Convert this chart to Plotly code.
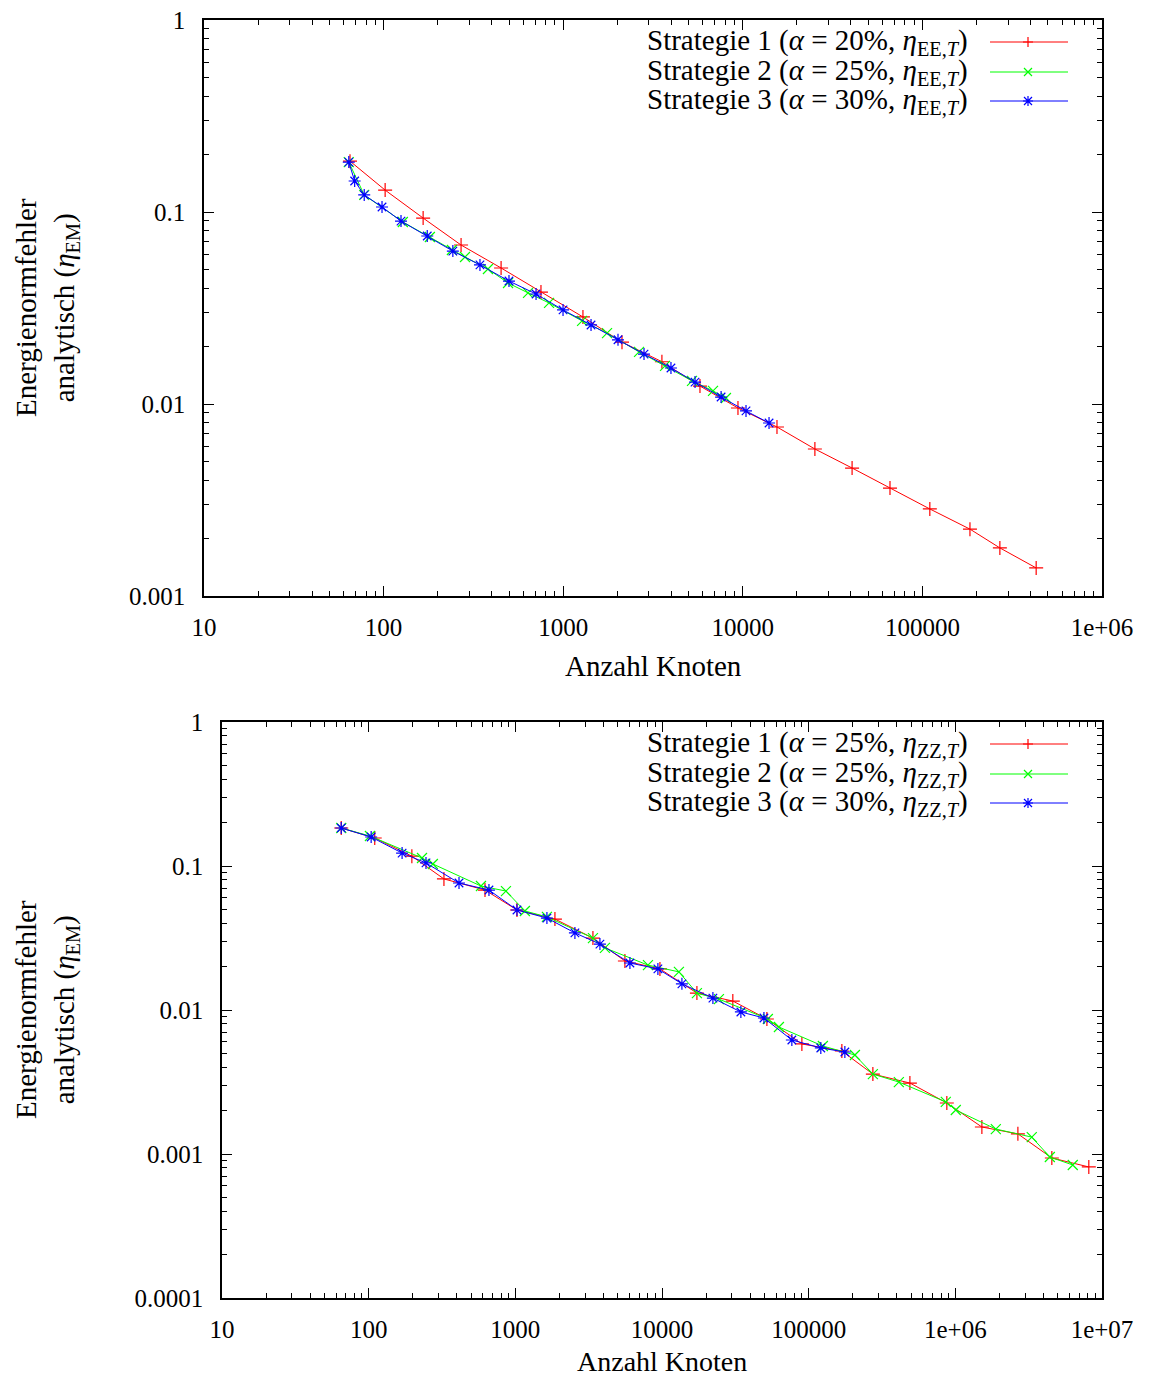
import plotly.graph_objects as go

# page body has an 8px margin: size the figure so it fits the 1153x1385 window
OFF = 8
W, H = 1153 - 2 * OFF, 1385 - 2 * OFF

# ---------------- data: top chart (eta_EE,T) ----------------
top_s1_n = [65, 102, 166, 270, 451, 752, 1288, 2125, 3545, 5775, 9400, 15500,
            25200, 40600, 66000, 110000, 184000, 270000, 430000]
top_s1_e = [0.184, 0.130, 0.093, 0.0673, 0.0511, 0.0383, 0.0284, 0.0210, 0.0166,
            0.0124, 0.00953, 0.00759, 0.00583, 0.00464, 0.00365, 0.00284,
            0.00223, 0.00178, 0.00140]

top_s2_n = [64, 78, 128, 181, 240, 284, 381, 493, 637, 834, 1274, 1754, 2644,
            3690, 5215, 6825, 8055]
top_s2_e = [0.182, 0.1227, 0.0887, 0.0741, 0.0634, 0.0583, 0.0505, 0.0427,
            0.0379, 0.0336, 0.0271, 0.0234, 0.0187, 0.0158, 0.0132, 0.0117,
            0.01075]

top_s3_n = [64, 69, 78, 98, 125, 175, 243, 344, 499, 706, 998, 1429, 2019, 2818,
            3981, 5420, 7570, 10420, 14000]
top_s3_e = [0.182, 0.145, 0.1227, 0.1062, 0.0897, 0.0750, 0.0626, 0.0530,
            0.0437, 0.0374, 0.0309, 0.0258, 0.0216, 0.0182, 0.0154, 0.0130,
            0.01087, 0.0092, 0.00796]

# ---------------- data: bottom chart (eta_ZZ,T) ----------------
bot_s1_n = [65, 110, 197, 326, 621, 1026, 1862, 3381, 5585, 9680, 17300, 30400,
            51900, 89900, 168400, 274000, 490000, 875000, 1517000, 2670000,
            4550000, 8130000]
bot_s1_e = [0.1836, 0.1565, 0.117, 0.0813, 0.0681, 0.0495, 0.0428, 0.0316,
            0.0219, 0.0193, 0.0131, 0.01154, 0.00866, 0.00581, 0.00519, 0.00359,
            0.00311, 0.00226, 0.00154, 0.00138, 0.000938, 0.000813]

bot_s2_n = [65, 102, 231, 274, 583, 863, 1162, 1642, 3381, 4083, 8020, 13040,
            17300, 24440, 52700, 62700, 125000, 206700, 274000, 412000, 861000,
            1007000, 1888000, 3320000, 4410000, 6320000]
bot_s2_e = [0.1836, 0.1615, 0.1137, 0.1033, 0.0726, 0.0670, 0.0487, 0.0443,
            0.0316, 0.0270, 0.0205, 0.0184, 0.0131, 0.0119, 0.00866, 0.00762,
            0.00562, 0.00487, 0.00359, 0.00316, 0.00230, 0.00202, 0.00149,
            0.00131, 0.000953, 0.000839]

bot_s3_n = [65, 104, 169, 246, 413, 661, 1026, 1642, 2548, 3774, 6043, 9377,
            13670, 22240, 34500, 49550, 76800, 121000, 176500]
bot_s3_e = [0.1836, 0.159, 0.123, 0.105, 0.0762, 0.0681, 0.0495, 0.0435, 0.0343,
            0.0287, 0.0212, 0.0193, 0.0152, 0.0121, 0.00969, 0.00880, 0.00619,
            0.00545, 0.00511]

top_names = ["Strategie 1 (<i>α</i> = 20%, <i>η</i><sub>EE,<i>T</i></sub>)",
             "Strategie 2 (<i>α</i> = 25%, <i>η</i><sub>EE,<i>T</i></sub>)",
             "Strategie 3 (<i>α</i> = 30%, <i>η</i><sub>EE,<i>T</i></sub>)"]
bot_names = ["Strategie 1 (<i>α</i> = 25%, <i>η</i><sub>ZZ,<i>T</i></sub>)",
             "Strategie 2 (<i>α</i> = 25%, <i>η</i><sub>ZZ,<i>T</i></sub>)",
             "Strategie 3 (<i>α</i> = 30%, <i>η</i><sub>ZZ,<i>T</i></sub>)"]

x_top_ticks = [10, 100, 1000, 10000, 100000, 1000000]
x_top_text = ["10", "100", "1000", "10000", "100000", "1e+06"]
x_bot_ticks = [10, 100, 1000, 10000, 100000, 1000000, 10000000]
x_bot_text = ["10", "100", "1000", "10000", "100000", "1e+06", "1e+07"]
y_top_ticks = [0.001, 0.01, 0.1, 1]
y_top_text = ["0.001", "0.01", "0.1", "1"]
y_bot_ticks = [0.0001, 0.001, 0.01, 0.1, 1]
y_bot_text = ["0.0001", "0.001", "0.01", "0.1", "1"]

colors = ["#ff0000", "#00ff00", "#0000ff"]
symbols = ["cross-thin", "x-thin", "asterisk"]
FONT = "Liberation Serif"

fig = go.Figure()

top_series = [(top_s1_n, top_s1_e), (top_s2_n, top_s2_e), (top_s3_n, top_s3_e)]
bot_series = [(bot_s1_n, bot_s1_e), (bot_s2_n, bot_s2_e), (bot_s3_n, bot_s3_e)]

for i, (xs, ys) in enumerate(top_series):
    fig.add_trace(go.Scatter(x=xs, y=ys, mode="lines+markers", name=top_names[i],
                             xaxis="x", yaxis="y", showlegend=False,
                             line=dict(color=colors[i], width=1),
                             marker=dict(symbol=symbols[i], size=10,
                                         line=dict(color=colors[i], width=1.2))))
for i, (xs, ys) in enumerate(bot_series):
    fig.add_trace(go.Scatter(x=xs, y=ys, mode="lines+markers", name=bot_names[i],
                             xaxis="x2", yaxis="y2", showlegend=False,
                             line=dict(color=colors[i], width=1),
                             marker=dict(symbol=symbols[i], size=10,
                                         line=dict(color=colors[i], width=1.2))))


def minors(lo, hi):
    out = []
    for e in range(lo, hi):
        for d in range(2, 10):
            out.append(d * 10 ** e)
    return out


def fx(p):
    return (p - OFF) / W


def fy(p):
    return 1 - (p - OFF) / H


def axis(domain, rng, tv, tt, anchor, minor_vals, standoff):
    return dict(type="log", domain=domain, range=rng, anchor=anchor,
                automargin=False, ticklabeloverflow="allow",
                tickmode="array", tickvals=tv, ticktext=tt,
                ticks="inside", ticklen=10, tickwidth=1.2, tickcolor="black",
                showline=True, linecolor="black", linewidth=1.5,
                mirror="allticks", showgrid=False, zeroline=False,
                ticklabelstandoff=standoff,
                tickfont=dict(family=FONT, size=25, color="black"),
                minor=dict(tickvals=minor_vals, ticks="inside", ticklen=5,
                           tickwidth=1, tickcolor="black", showgrid=False))


fig.update_layout(
    width=W, height=H, margin=dict(l=0, r=0, t=0, b=0, pad=0, autoexpand=False),
    paper_bgcolor="white", plot_bgcolor="white", showlegend=False,
    xaxis=axis([fx(204), fx(1102)], [1, 6], x_top_ticks, x_top_text, "y",
               minors(1, 6), 8),
    yaxis=axis([fy(596), fy(20)], [-3, 0], y_top_ticks, y_top_text, "x",
               minors(-3, 0), 12),
    xaxis2=axis([fx(222), fx(1102)], [1, 7], x_bot_ticks, x_bot_text, "y2",
                minors(1, 7), 8),
    yaxis2=axis([fy(1298), fy(722)], [-4, 0], y_bot_ticks, y_bot_text, "x2",
                minors(-4, 0), 12),
)

annotations = []
shapes = []

# axis titles
for cx, cy, sz in [(653, 666, 29), (662, 1361, 28)]:
    annotations.append(dict(x=fx(cx), y=fy(cy), xref="paper", yref="paper",
                            text="Anzahl Knoten", showarrow=False,
                            font=dict(family=FONT, size=sz, color="black"),
                            xanchor="center", yanchor="middle"))
for cy in [308, 1010]:
    annotations.append(dict(x=fx(47), y=fy(cy), xref="paper", yref="paper",
                            text="Energienormfehler<br>analytisch (<i>η</i><sub>EM</sub>)",
                            showarrow=False, textangle=-90,
                            font=dict(family=FONT, size=29, color="black"),
                            xanchor="center", yanchor="middle"))

# legends (gnuplot style: text right-aligned, sample to the right)
legend_rows = [(top_names, [42, 72, 101]), (bot_names, [744, 774, 803])]
for names, rows in legend_rows:
    for i, (nm, yy) in enumerate(zip(names, rows)):
        annotations.append(dict(x=fx(970), y=fy(yy), xref="paper", yref="paper",
                                text=nm, showarrow=False,
                                font=dict(family=FONT, size=29, color="black"),
                                xanchor="right", yanchor="middle"))
        shapes.append(dict(type="line", xref="paper", yref="paper",
                           x0=fx(990), x1=fx(1068), y0=fy(yy), y1=fy(yy),
                           line=dict(color=colors[i], width=1)))
        cx, cy, r = 1028, yy, 5
        parts = []
        if i in (0, 2):
            parts.append(f"M{fx(cx - r)},{fy(cy)} L{fx(cx + r)},{fy(cy)} "
                         f"M{fx(cx)},{fy(cy - r)} L{fx(cx)},{fy(cy + r)}")
        if i in (1, 2):
            rr = r * 0.8
            parts.append(f"M{fx(cx - rr)},{fy(cy - rr)} L{fx(cx + rr)},{fy(cy + rr)} "
                         f"M{fx(cx - rr)},{fy(cy + rr)} L{fx(cx + rr)},{fy(cy - rr)}")
        shapes.append(dict(type="path", xref="paper", yref="paper",
                           path=" ".join(parts),
                           line=dict(color=colors[i], width=1.2)))

fig.update_layout(annotations=annotations, shapes=shapes)
fig.write_html("out.html")
